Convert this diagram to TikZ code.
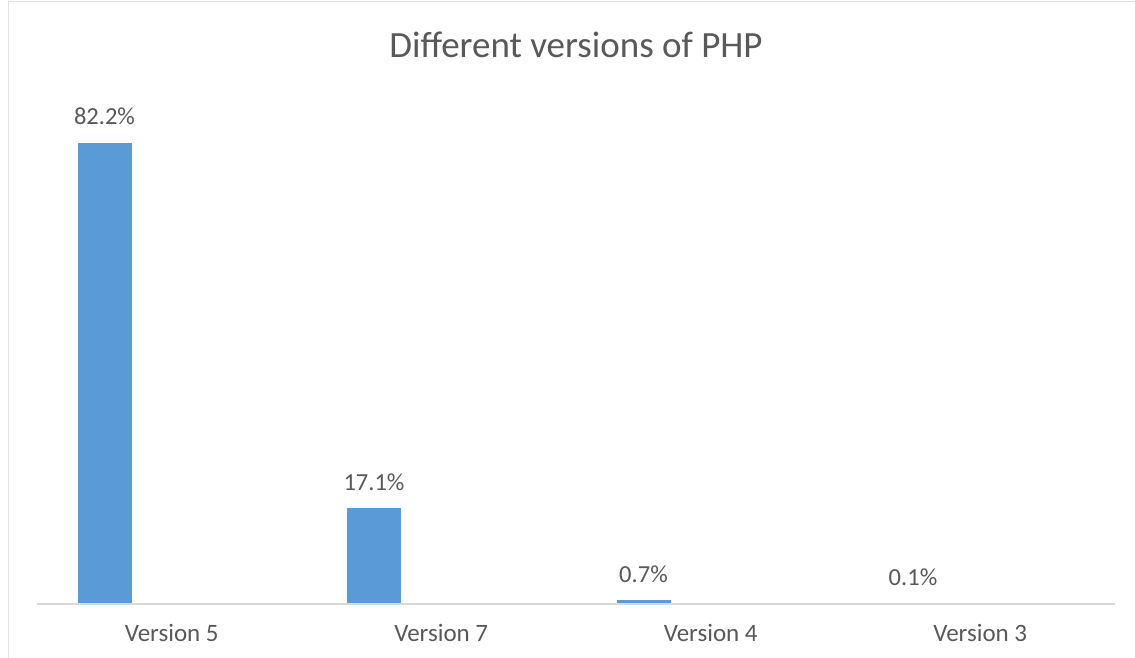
\documentclass[tikz,border=0pt]{standalone}
\usepackage{fontspec}
\setmainfont{Carlito}
\definecolor{barblue}{HTML}{5B9BD5}
\definecolor{txtgray}{HTML}{595959}
\definecolor{axisgray}{HTML}{D9D9D9}
\definecolor{framegray}{HTML}{E3E3E3}
\begin{document}
\begin{tikzpicture}[x=1pt,y=-1pt,
  bar/.style={fill=barblue},
  vallabel/.style={anchor=base,text=txtgray,inner sep=0pt,font=\fontsize{24.5}{28}\selectfont},
  catlabel/.style={anchor=base,text=txtgray,inner sep=0pt,font=\fontsize{25}{29}\selectfont},
  charttitle/.style={text=txtgray,inner sep=0pt,font=\fontsize{37}{43}\selectfont}]
  \useasboundingbox (0,0) rectangle (1135,658);
  \fill[white] (0,0) rectangle (1135,658);
  % chart frame (left and top edges)
  \draw[framegray,line width=1pt] (8,658) -- (8,2) -- (1135,2);
  % title
  \node[charttitle] (title) at (576,45) {Different versions of PHP};
  % bars: category index / value / label
  \foreach \i/\v/\lab/\name in {0/82.2/Version 5/v5, 1/17.1/Version 7/v7, 2/0.7/Version 4/v4, 3/0.1/Version 3/v3}{
    \pgfmathsetmacro{\xl}{37+269.5*\i+40.5}
    \pgfmathsetmacro{\xc}{37+269.5*\i+67.5}
    \pgfmathsetmacro{\xm}{37+269.5*(\i+0.5)}
    \pgfmathsetmacro{\yt}{604-5.61*\v}
    \fill[bar] (\xl,604) rectangle ++(54,-5.61*\v);
    \node[vallabel] (val-\name) at (\xc,\yt-18) {\v\%};
    \node[catlabel] (cat-\name) at (\xm,641) {\lab};
  }
  % category axis
  \coordinate (axl) at (37,604);
  \coordinate (axr) at (1115,604);
  \draw[axisgray,line width=1.6pt] (axl) -- (axr);
\end{tikzpicture}
\end{document}
